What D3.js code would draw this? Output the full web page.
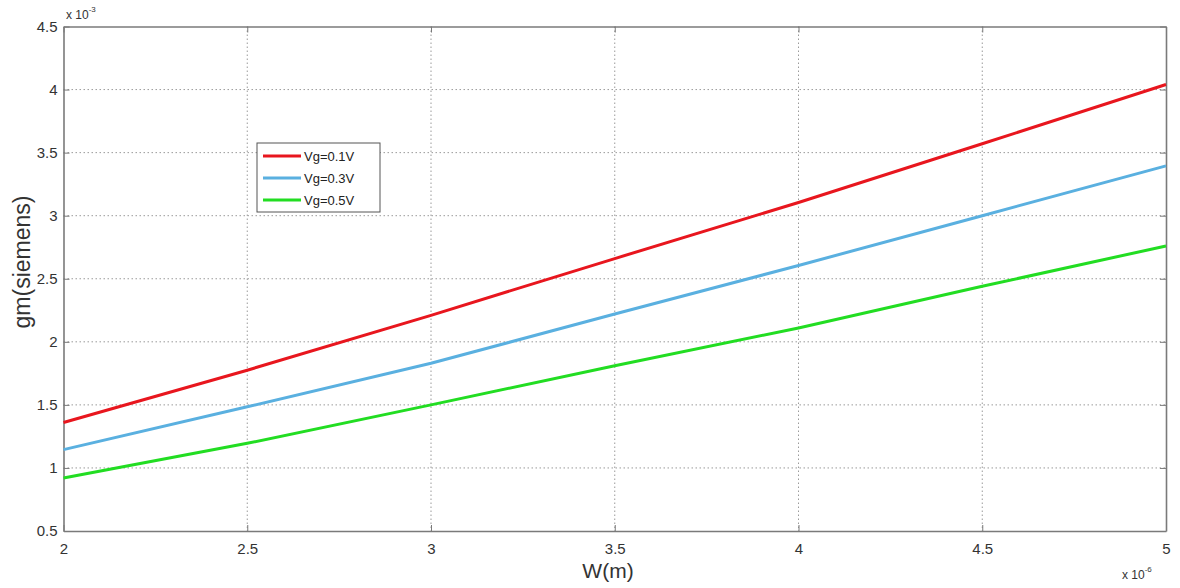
<!DOCTYPE html>
<html>
<head>
<meta charset="utf-8">
<script src="https://cdn.jsdelivr.net/npm/d3@7"></script>
<style>
  html, body { margin: 0; padding: 0; background: #fff; }
  svg { display: block; font-family: "Liberation Sans", Arial, sans-serif; }
</style>
</head>
<body>
<svg id="chart" width="1180" height="588"></svg>
<script>
// Channel width W (x 1e-6 m) and transconductance gm (x 1e-3 S) for three gate voltages
const widths = [2, 2.5, 3, 3.5, 4, 4.5, 5];
const gmVg01 = [1.36, 1.775, 2.21, 2.66, 3.105, 3.57, 4.04];
const gmVg03 = [1.145, 1.485, 1.83, 2.22, 2.605, 3.0, 3.395];
const gmVg05 = [0.92, 1.195, 1.50, 1.81, 2.11, 2.44, 2.76];
const seriesNames = ["Vg=0.1V", "Vg=0.3V", "Vg=0.5V"];
const seriesColors = ["#e8161e", "#5ab0e0", "#22dd22"];
const xTicks = [2, 2.5, 3, 3.5, 4, 4.5, 5];
const yTicks = [0.5, 1, 1.5, 2, 2.5, 3, 3.5, 4, 4.5];

(function draw() {
  const series = [gmVg01, gmVg03, gmVg05].map((vals, i) => ({
    name: seriesNames[i],
    color: seriesColors[i],
    points: widths.map((w, j) => [w, vals[j]])
  }));

  const svg = d3.select("#chart");
  const pL = 63.5, pR = 1166, pT = 26.5, pB = 531;

  const x = d3.scaleLinear().domain([2, 5]).range([pL, pR]);
  const y = d3.scaleLinear().domain([0.5, 4.5]).range([pB, pT]);

  // dotted grid
  const grid = svg.append("g").attr("stroke", "#9a9a9a").attr("stroke-width", 1)
    .attr("stroke-dasharray", "1.5,2.5");
  xTicks.slice(1, -1).forEach(t => {
    grid.append("line").attr("x1", x(t)).attr("x2", x(t)).attr("y1", pT).attr("y2", pB);
  });
  yTicks.slice(1, -1).forEach(t => {
    grid.append("line").attr("x1", pL).attr("x2", pR).attr("y1", y(t)).attr("y2", y(t));
  });

  // axes with inward ticks
  const axisColor = "#7a7a7a";
  const xAxis = svg.append("g").attr("transform", `translate(0,${pB})`)
    .call(d3.axisBottom(x).tickValues(xTicks).tickSizeInner(-6).tickSizeOuter(0).tickPadding(12)
      .tickFormat(d3.format("~g")));
  const xAxisTop = svg.append("g").attr("transform", `translate(0,${pT})`)
    .call(d3.axisTop(x).tickValues(xTicks).tickSizeInner(-6).tickSizeOuter(0).tickFormat(""));
  const yAxis = svg.append("g").attr("transform", `translate(${pL},0)`)
    .call(d3.axisLeft(y).tickValues(yTicks).tickSizeInner(-6).tickSizeOuter(0).tickPadding(6)
      .tickFormat(d3.format("~g")));
  const yAxisRight = svg.append("g").attr("transform", `translate(${pR},0)`)
    .call(d3.axisRight(y).tickValues(yTicks).tickSizeInner(-6).tickSizeOuter(0).tickFormat(""));

  [xAxis, xAxisTop, yAxis, yAxisRight].forEach(g => {
    g.select(".domain").attr("stroke", axisColor).attr("stroke-width", 1.6);
    g.selectAll(".tick line").attr("stroke", axisColor).attr("stroke-width", 1);
    g.selectAll(".tick text").attr("fill", "#333").style("font-size", "15px")
      .style("font-family", "'Liberation Sans', Arial, sans-serif");
  });

  // exponent labels
  const exp1 = svg.append("text").attr("x", 66).attr("y", 19).attr("fill", "#333").style("font-size", "12px");
  exp1.append("tspan").text("x 10");
  exp1.append("tspan").attr("dy", -7).style("font-size", "8px").text("-3");
  const exp2 = svg.append("text").attr("x", 1122).attr("y", 579).attr("fill", "#333").style("font-size", "12px");
  exp2.append("tspan").text("x 10");
  exp2.append("tspan").attr("dy", -7).style("font-size", "8px").text("-6");

  // axis titles
  svg.append("text").attr("x", 608).attr("y", 578).attr("text-anchor", "middle")
    .attr("fill", "#333").style("font-size", "21px").text("W(m)");
  svg.append("text").attr("transform", "translate(30,262) rotate(-90)")
    .attr("text-anchor", "middle").attr("fill", "#333").style("font-size", "23px").text("gm(siemens)");

  // series lines
  const line = d3.line().x(d => x(d[0])).y(d => y(d[1]));
  svg.append("g").selectAll("path").data(series).join("path")
    .attr("d", d => line(d.points))
    .attr("fill", "none")
    .attr("stroke", d => d.color)
    .attr("stroke-width", 3)
    .attr("stroke-linejoin", "round");

  // legend
  const legend = svg.append("g").attr("transform", "translate(257,143)");
  legend.append("rect").attr("width", 123).attr("height", 69)
    .attr("fill", "#fff").attr("stroke", "#555").attr("stroke-width", 1);
  series.forEach((s, i) => {
    const cy = 13 + i * 22;
    legend.append("line").attr("x1", 6).attr("x2", 44).attr("y1", cy).attr("y2", cy)
      .attr("stroke", s.color).attr("stroke-width", 3);
    legend.append("text").attr("x", 47).attr("y", cy + 5).attr("fill", "#222")
      .style("font-size", "13px").text(s.name);
  });
})();
</script>
</body>
</html>
